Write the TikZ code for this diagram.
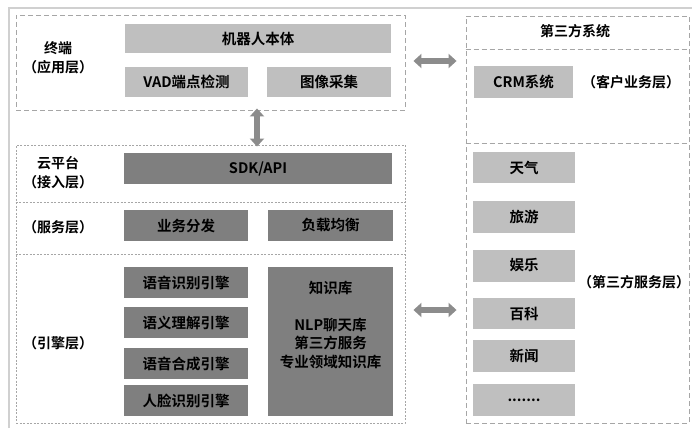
\documentclass[tikz,border=0pt]{standalone}
\usepackage{fontspec}
\setmainfont{Noto Sans CJK SC}[BoldFont={Noto Sans CJK SC Bold}]
\usetikzlibrary{arrows.meta,calc}
\definecolor{lightbox}{HTML}{BFBFBF}
\definecolor{darkbox}{HTML}{7F7F7F}
\definecolor{framegray}{HTML}{A6A6A6}
\definecolor{arrowgray}{HTML}{8C8C8C}
\definecolor{outergray}{HTML}{D0D0D0}
\tikzset{
  x=1pt, y=-1pt,
  boxbase/.style={inner sep=0pt, font=\bfseries\fontsize{14.5}{17}\selectfont, text=black},
  lbox/.style={boxbase, fill=lightbox},
  dbox/.style={boxbase, fill=darkbox},
  sidelabel/.style={font=\bfseries\fontsize{14}{19}\selectfont, text=black, align=center, inner sep=0pt},
  dashframe/.style={draw=framegray, line width=0.9pt, dash pattern=on 5pt off 3pt, inner sep=0pt},
  dotframe/.style={draw=framegray, line width=0.9pt, dash pattern=on 2pt off 1.5pt, inner sep=0pt},
  bigarrow/.style={draw=arrowgray, line width=5.5pt, {Triangle[width=14pt,length=8pt]}-{Triangle[width=14pt,length=8pt]}},
}
\newcommand{\bx}[6]{\node[#1, minimum width=#4pt, minimum height=#5pt] (#2) at (#3) {#6};}
\begin{document}
\begin{tikzpicture}
\useasboundingbox (0,0) rectangle (692,428);
% outer partial frame
\draw[outergray, line width=1.5pt] (9,428) -- (9,8) -- (692,8);

% frames
\node[dashframe, minimum width=389pt, minimum height=95pt] (term) at (210.5,62.5) {};
\node[dotframe, minimum width=389pt, minimum height=278pt] (cloud) at (210.5,284) {};
\draw[framegray, line width=0.9pt, dash pattern=on 2pt off 1.5pt] (cloud.west |- 0,202) coordinate (d1a) -- (cloud.east |- 0,202) coordinate (d1b);
\draw[framegray, line width=0.9pt, dash pattern=on 2pt off 1.5pt] (cloud.west |- 0,254) coordinate (d2a) -- (cloud.east |- 0,254) coordinate (d2b);
\node[dashframe, minimum width=223pt, minimum height=407pt] (third) at (577.5,219.5) {};
\draw[framegray, line width=0.9pt, dash pattern=on 5pt off 3pt] (third.west |- 0,49) coordinate (t1a) -- (third.east |- 0,49) coordinate (t1b);
\draw[framegray, line width=0.9pt, dash pattern=on 5pt off 3pt] (third.west |- 0,143) coordinate (t2a) -- (third.east |- 0,143) coordinate (t2b);

% terminal
\bx{lbox}{robot}{258,38.5}{266}{29}{机器人本体}
\bx{lbox}{vad}{186.5,82}{123}{30}{VAD端点检测}
\bx{lbox}{img}{329,82}{124}{30}{图像采集}
\node[sidelabel] (termlbl) at (58,58) {终端\\（应用层）};

% access layer
\bx{dbox}{sdk}{258,168.5}{268}{31}{SDK/API}
\node[sidelabel] (acclbl) at (58,173) {云平台\\（接入层）};

% service layer
\bx{dbox}{dist}{186,225.5}{124}{31}{业务分发}
\bx{dbox}{load}{330.5,225.5}{125}{31}{负载均衡}
\node[sidelabel] (svclbl) at (58,227) {（服务层）};

% engine layer
\bx{dbox}{e1}{186,282.5}{124}{31}{语音识别引擎}
\bx{dbox}{e2}{186,322.5}{124}{31}{语义理解引擎}
\bx{dbox}{e3}{186,363.5}{124}{31}{语音合成引擎}
\bx{dbox}{e4}{186,400.5}{124}{31}{人脸识别引擎}
\bx{dbox}{kb}{330.5,341.5}{125}{149}{}
\node[boxbase] (kbt) at (330.5,288) {知识库};
\node[boxbase, align=center, font=\bfseries\fontsize{14.5}{18.5}\selectfont] (kbl) at (330.5,343.5) {NLP聊天库\\第三方服务\\专业领域知识库};
\node[sidelabel] (englbl) at (58,343) {（引擎层）};

% third party
\node[sidelabel] (thirdttl) at (575,31) {第三方系统};
\bx{lbox}{crm}{523.5,82}{99}{32}{CRM系统}
\node[sidelabel] (crmlbl) at (631,82) {（客户业务层）};
\bx{lbox}{s1}{524,167.5}{102}{31}{天气}
\bx{lbox}{s2}{524,216.5}{102}{32}{旅游}
\bx{lbox}{s3}{524,265.5}{102}{32}{娱乐}
\bx{lbox}{s4}{524,313.5}{102}{31}{百科}
\bx{lbox}{s5}{524,356}{102}{32}{新闻}
\bx{lbox}{s6}{524,400}{102}{32}{.......}
\node[sidelabel] (svc3lbl) at (634,282) {（第三方服务层）};

% arrows
\coordinate (a1s) at (term.east |- 0,61);
\coordinate (a1e) at (third.west |- 0,61);
\draw[bigarrow, shorten <=8pt, shorten >=9pt] (a1s) -- (a1e);
\coordinate (a2s) at (cloud.east |- 0,310);
\coordinate (a2e) at (third.west |- 0,310);
\draw[bigarrow, shorten <=8pt, shorten >=9pt] (a2s) -- (a2e);
\coordinate (a3s) at (term.south -| 257,0);
\coordinate (a3e) at (cloud.north -| 257,0);
\draw[bigarrow, shorten <=-2pt, shorten >=-2pt] (a3s) -- (a3e);
\end{tikzpicture}
\end{document}
